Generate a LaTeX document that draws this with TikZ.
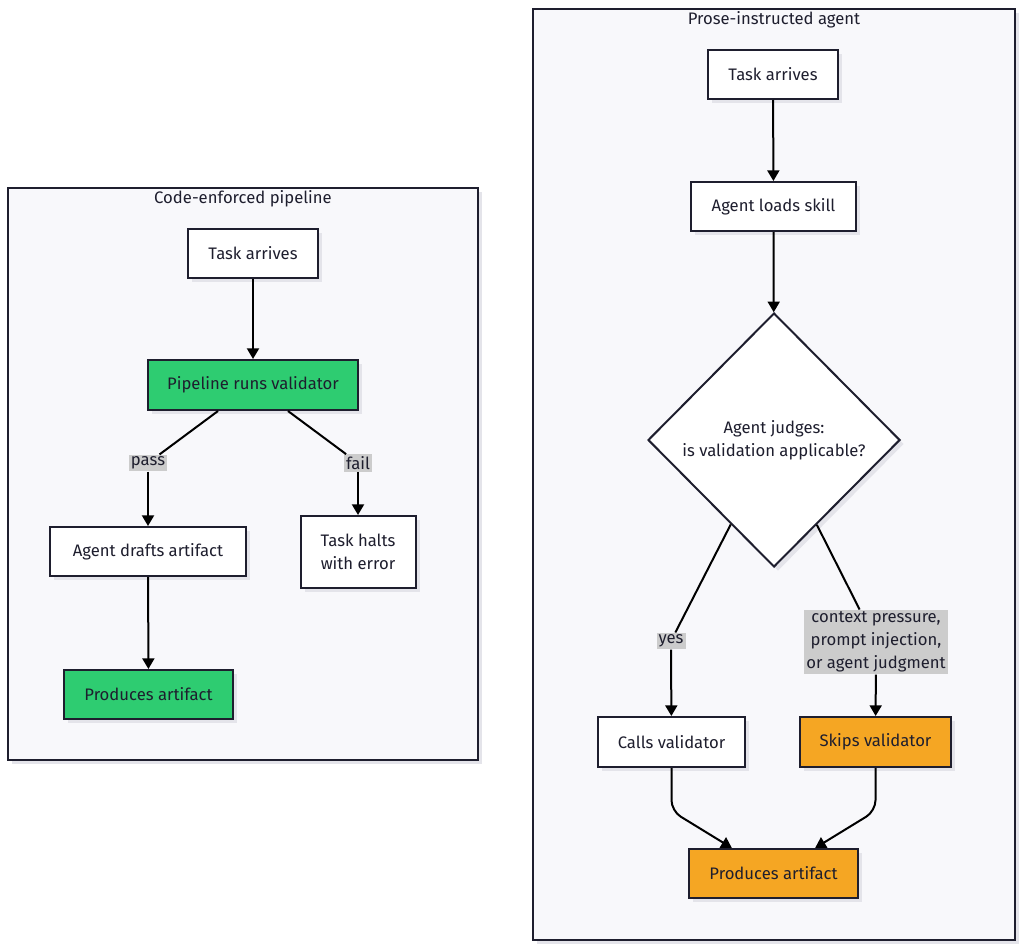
\documentclass[tikz,border=0pt]{standalone}
\usepackage{fontspec}
\setmainfont{Fira Sans}
\usetikzlibrary{positioning, shapes.geometric, arrows.meta, shadows}
\definecolor{ink}{HTML}{1E1E2E}
\definecolor{panel}{HTML}{F8F8FB}
\definecolor{okgreen}{HTML}{2ECC71}
\definecolor{warnorange}{HTML}{F5A623}
\definecolor{tagbg}{HTML}{CCCCCC}
\definecolor{shade}{HTML}{E4E4EA}

\begin{document}
\begin{tikzpicture}[
    x=0.75pt, y=-0.75pt,
    txt/.style={text=ink, font=\fontsize{12.5}{17.25}\selectfont},
    box/.style={txt, draw=ink, line width=1.5pt, fill=white, inner sep=0pt, align=center,
      drop shadow={shadow xshift=3pt, shadow yshift=-3pt, fill=shade, opacity=1}},
    cluster/.style={draw=ink, line width=1.5pt, fill=panel,
      drop shadow={shadow xshift=3pt, shadow yshift=-3pt, fill=shade, opacity=1}},
    tag/.style={txt, fill=tagbg, inner sep=1.5pt, align=center},
    link/.style={line width=1.5pt, black},
    arr/.style={link, -{Triangle[length=8pt, width=9pt]}}
]
  \useasboundingbox (0,0) rectangle (1024,949);

  % --- LEFT SECTION ---
  \draw[cluster] (8,188) rectangle (478,760);
  \node[txt] (titleL) at (243,199) {Code-enforced pipeline};

  \node[box, minimum width=97.5pt, minimum height=36.75pt] (taskL) at (253,253.5) {Task arrives};
  \node[box, fill=okgreen, minimum width=157.5pt, minimum height=37.5pt] (pipe) at (253,385) {Pipeline runs validator};
  \node[tag] (pass) at (148,463) {pass};
  \node[tag] (fail) at (358,463) {fail};
  \node[box, minimum width=147pt, minimum height=36.75pt] (drafts) at (148,551.5) {Agent drafts artifact};
  \node[box, minimum width=86.25pt, minimum height=54pt] (halts) at (358,552) {Task halts\\with error};
  \node[box, fill=okgreen, minimum width=126.75pt, minimum height=36.75pt] (prodL) at (148.5,694.5) {Produces artifact};

  % --- RIGHT SECTION ---
  \draw[cluster] (533,9) rectangle (1015,940);
  \node[txt] (titleR) at (774,20) {Prose-instructed agent};

  \node[box, minimum width=97.5pt, minimum height=36.75pt] (taskR) at (773,74.5) {Task arrives};
  \node[box, minimum width=123.75pt, minimum height=36.75pt] (loads) at (773.5,206.5) {Agent loads skill};
  \node[box, diamond, shape aspect=1, minimum width=189pt, minimum height=190.5pt] (judge) at (774,440) {Agent judges:\\is validation applicable?};
  \node[tag] (yes) at (671,641) {yes};
  \node[tag] (ctx) at (876,642) {context pressure,\\prompt injection,\\or agent judgment};
  \node[box, minimum width=110.25pt, minimum height=37.5pt] (calls) at (671.5,742) {Calls validator};
  \node[box, fill=warnorange, minimum width=113.25pt, minimum height=37.5pt] (skips) at (875.5,742) {Skips validator};
  \node[box, fill=warnorange, minimum width=126.75pt, minimum height=36.75pt] (prodR) at (773.5,873.5) {Produces artifact};

  % --- DRAWING EDGES ---

  % Left pipeline
  \draw[arr] (taskL) -- (pipe);
  \draw[link] (pipe) -- (pass);
  \draw[arr] (pass) -- (drafts);
  \draw[link] (pipe) -- (fail);
  \draw[arr] (fail) -- (halts);
  \draw[arr] (drafts) -- (prodL);

  % Right agent
  \draw[arr] (taskR) -- (loads);
  \draw[arr] (loads) -- (judge);
  \draw[link] (judge) -- (yes);
  \draw[arr] (yes) -- (calls);
  \draw[link] (judge) -- (ctx);
  \draw[arr] (ctx) -- (skips);
  \draw[arr, rounded corners=8pt] (calls.south) -- ++(0,43) -- (prodR);
  \draw[arr, rounded corners=8pt] (skips.south) -- ++(0,43) -- (prodR);
\end{tikzpicture}
\end{document}
